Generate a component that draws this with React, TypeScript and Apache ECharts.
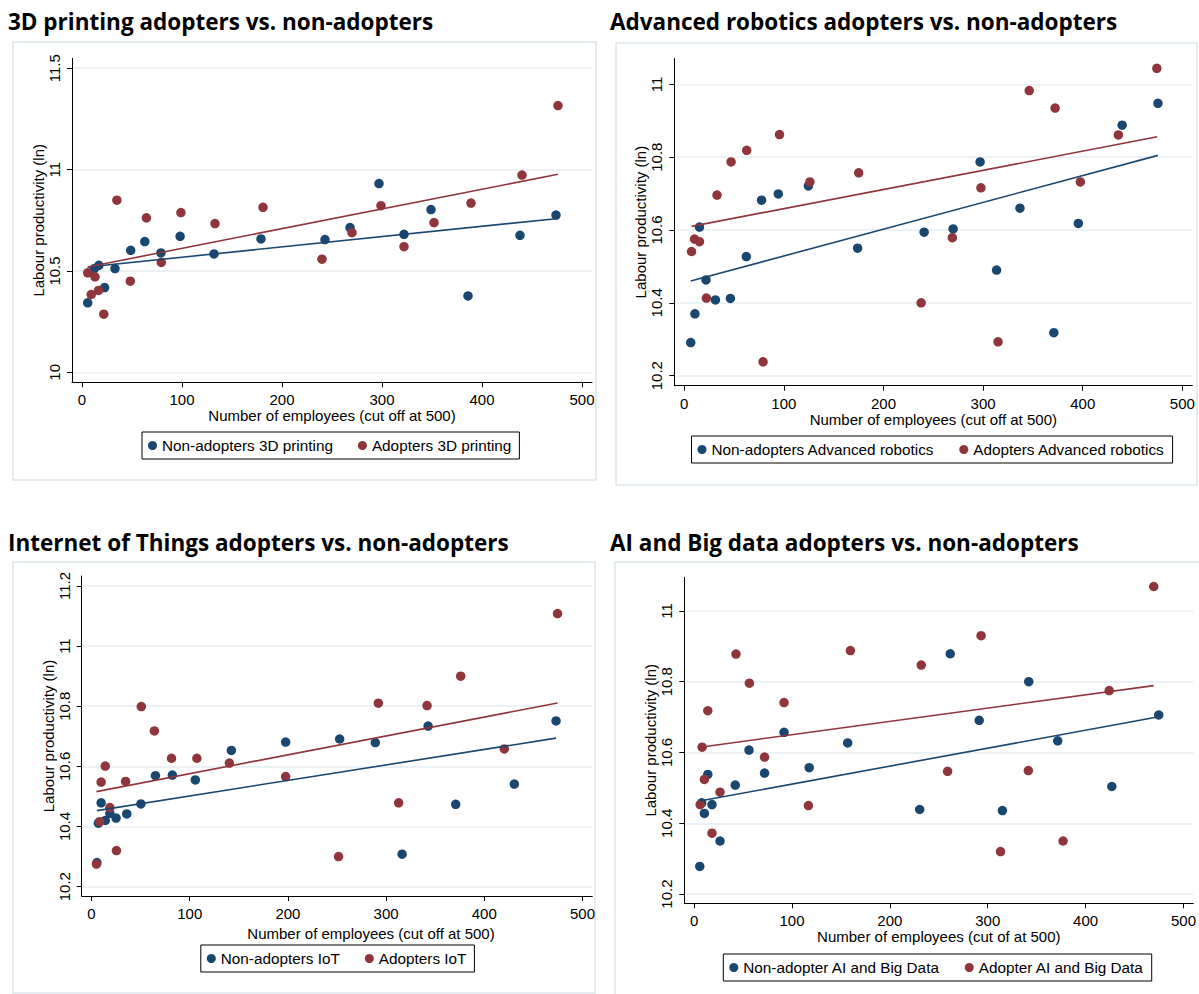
import React, { useEffect, useRef } from 'react';
import * as echarts from 'echarts';

// ---------- DATA ----------
const xTicks = [0, 100, 200, 300, 400, 500];
const yTicks3D = [10, 10.5, 11, 11.5];
const yTicksRob = [10.2, 10.4, 10.6, 10.8, 11];
const yTicksIoT = [10.2, 10.4, 10.6, 10.8, 11, 11.2];
const yTicksAI = [10.2, 10.4, 10.6, 10.8, 11];

// 3D printing
const nonAdopt3DX = [5.7, 12.3, 16.9, 22.6, 33, 48.7, 62.8, 78.9, 98.1, 132, 179, 243, 268, 297, 322, 349, 386, 438, 474];
const nonAdopt3DY = [10.343, 10.512, 10.528, 10.418, 10.512, 10.602, 10.645, 10.589, 10.671, 10.584, 10.658, 10.655, 10.714, 10.931, 10.681, 10.803, 10.377, 10.676, 10.776];
const adopt3DX = [5.7, 9.2, 13, 16.5, 21.8, 34.9, 48.3, 64.4, 79.3, 98.9, 133, 181, 240, 270, 299, 322, 352, 389, 440, 476];
const adopt3DY = [10.491, 10.384, 10.471, 10.404, 10.287, 10.849, 10.45, 10.762, 10.542, 10.788, 10.734, 10.814, 10.558, 10.689, 10.822, 10.62, 10.739, 10.835, 10.973, 11.316];
const fitNon3D = [[5.7, 10.52], [474, 10.758]];
const fitAdopt3D = [[5.7, 10.52], [476, 10.977]];

// Advanced robotics
const nonAdoptRobX = [6.5, 10.7, 15.3, 21.8, 31.3, 46.3, 62.3, 77.6, 94.4, 124.6, 174, 240.8, 269.9, 297, 313.5, 337, 371, 395.6, 439.6, 475.5];
const nonAdoptRobY = [10.291, 10.37, 10.608, 10.463, 10.408, 10.412, 10.527, 10.682, 10.699, 10.721, 10.55, 10.594, 10.603, 10.787, 10.49, 10.66, 10.318, 10.618, 10.888, 10.948];
const adoptRobX = [7.3, 10.3, 15.3, 22.2, 32.9, 47, 62.7, 79.1, 95.6, 126.1, 175.1, 237.8, 269.1, 297.8, 315, 346.3, 372.3, 397.6, 435.8, 474.4];
const adoptRobY = [10.541, 10.575, 10.568, 10.413, 10.696, 10.787, 10.819, 10.238, 10.862, 10.732, 10.757, 10.4, 10.579, 10.716, 10.293, 10.983, 10.935, 10.732, 10.861, 11.044];
const fitNonRob = [[6.5, 10.46], [475.5, 10.805]];
const fitAdoptRob = [[7.3, 10.61], [474.8, 10.856]];

// Internet of Things
const nonAdoptIoTX = [5.5, 7, 9.8, 14, 18.7, 25, 35.9, 50.3, 65.1, 82.3, 105.7, 142.4, 197.7, 252.7, 289, 316.3, 342.8, 370.9, 430.6, 473.1];
const nonAdoptIoTY = [10.28, 10.411, 10.479, 10.42, 10.444, 10.428, 10.442, 10.475, 10.569, 10.571, 10.555, 10.653, 10.681, 10.691, 10.679, 10.308, 10.734, 10.474, 10.541, 10.751];
const adoptIoTX = [5, 8.2, 9.8, 14, 18.7, 25.4, 34.7, 50.7, 64, 81.5, 107.3, 140.4, 197.7, 251.6, 292.1, 312.8, 341.7, 376, 420.4, 474.6];
const adoptIoTY = [10.275, 10.416, 10.548, 10.601, 10.463, 10.32, 10.55, 10.799, 10.718, 10.627, 10.627, 10.611, 10.566, 10.3, 10.81, 10.479, 10.802, 10.9, 10.658, 11.108];
const fitNonIoT = [[5.5, 10.453], [473.1, 10.694]];
const fitAdoptIoT = [[5, 10.516], [474.6, 10.811]];

// AI and Big data
const nonAdoptAIX = [5.8, 7.8, 10.5, 14, 18.3, 26.5, 42.1, 56.1, 72, 91.9, 117.6, 156.9, 230.5, 261.7, 291.3, 315, 341.9, 371.5, 426.8, 474.7];
const nonAdoptAIY = [10.278, 10.458, 10.428, 10.538, 10.453, 10.35, 10.508, 10.607, 10.542, 10.657, 10.557, 10.627, 10.439, 10.879, 10.691, 10.436, 10.8, 10.633, 10.504, 10.706];
const adoptAIX = [6.2, 8.2, 10.5, 14, 18.3, 26.5, 42.8, 56.5, 72, 91.9, 116.8, 159.7, 232.1, 259, 293.2, 313.1, 341.5, 377, 424.1, 469.6];
const adoptAIY = [10.453, 10.615, 10.524, 10.718, 10.372, 10.488, 10.878, 10.796, 10.587, 10.741, 10.45, 10.888, 10.847, 10.547, 10.93, 10.32, 10.549, 10.35, 10.775, 11.069];
const fitNonAI = [[5.8, 10.463], [474.7, 10.701]];
const fitAdoptAI = [[6.2, 10.615], [469.6, 10.789]];

// ---------- STYLE / LAYOUT ----------
const NAVY = '#1a476f';
const MAROON = '#90353b';
const FAINT = '#e4ecf0';
const AXIS_FONT = '"Liberation Sans", Arial, sans-serif';
const TITLE_FONT = '"Open Sans", Lato, sans-serif';

const zip = (xs: number[], ys: number[]) => xs.map((x, i) => [x, ys[i]]);

const panels = [
  {
    title: '3D printing adopters vs. non-adopters', tx: 8, ty: 10,
    frame: [13, 42, 583, 438],
    grid: { left: 72, top: 58.3, width: 520, height: 324 },
    yMin: 9.951, yMax: 11.549, yTicks: yTicks3D,
    xName: 'Number of employees (cut off at 500)', xNamePad: 0, xNameGap: 26,
    legendLeft: 142, legendTop: 432,
    names: ['Non-adopters 3D printing', 'Adopters 3D printing'],
    non: zip(nonAdopt3DX, nonAdopt3DY), adopt: zip(adopt3DX, adopt3DY),
    fitNon: fitNon3D, fitAdopt: fitAdopt3D,
  },
  {
    title: 'Advanced robotics adopters vs. non-adopters', tx: 610, ty: 10,
    frame: [616, 43, 581, 442],
    grid: { left: 674.3, top: 58.5, width: 518, height: 327.2 },
    yMin: 10.1725, yMax: 11.071, yTicks: yTicksRob,
    xName: 'Number of employees (cut off at 500)', xNamePad: 0, xNameGap: 26,
    legendLeft: 691.5, legendTop: 436,
    names: ['Non-adopters Advanced robotics', 'Adopters Advanced robotics'],
    non: zip(nonAdoptRobX, nonAdoptRobY), adopt: zip(adoptRobX, adoptRobY),
    fitNon: fitNonRob, fitAdopt: fitAdoptRob,
  },
  {
    title: 'Internet of Things adopters vs. non-adopters', tx: 8, ty: 531,
    frame: [13, 562, 582, 431],
    grid: { left: 81.7, top: 576, width: 510.6, height: 320 },
    yMin: 10.169, yMax: 11.233, yTicks: yTicksIoT,
    xName: 'Number of employees (cut off at 500)', xNamePad: 68, xNameGap: 30,
    legendLeft: 200.8, legendTop: 945,
    names: ['Non-adopters IoT', 'Adopters IoT'],
    non: zip(nonAdoptIoTX, nonAdoptIoTY), adopt: zip(adoptIoTX, adoptIoTY),
    fitNon: fitNonIoT, fitAdopt: fitAdoptIoT,
  },
  {
    title: 'AI and Big data adopters vs. non-adopters', tx: 610, ty: 531,
    frame: [615, 562, 590, 440],
    grid: { left: 684.3, top: 577.3, width: 510.7, height: 326 },
    yMin: 10.174, yMax: 11.095, yTicks: yTicksAI,
    xName: 'Number of employees (cut of at 500)', xNamePad: 0, xNameGap: 26,
    legendLeft: 723.3, legendTop: 954,
    names: ['Non-adopter AI and Big Data', 'Adopter AI and Big Data'],
    non: zip(nonAdoptAIX, nonAdoptAIY), adopt: zip(adoptAIX, adoptAIY),
    fitNon: fitNonAI, fitAdopt: fitAdoptAI,
  },
];

function buildOption() {
  const axisText = { fontFamily: AXIS_FONT, fontSize: 15, color: '#000' };
  return {
    animation: false,
    backgroundColor: '#ffffff',
    title: panels.map((p) => ({
      text: p.title, left: p.tx, top: p.ty, padding: 0,
      textStyle: { fontFamily: TITLE_FONT, fontWeight: 'bold', fontSize: 22.5, color: '#000' },
    })),
    graphic: panels.map((p) => ({
      type: 'rect', silent: true, z: -10,
      shape: { x: p.frame[0], y: p.frame[1], width: p.frame[2], height: p.frame[3] },
      style: { fill: 'none', stroke: FAINT, lineWidth: 2 },
    })),
    grid: panels.map((p) => ({ ...p.grid, containLabel: false })),
    xAxis: panels.map((p, i) => ({
      type: 'value', gridIndex: i, min: -10, max: 510,
      name: p.xName, nameLocation: 'middle', nameGap: p.xNameGap,
      nameTextStyle: { ...axisText, padding: [0, 0, 0, p.xNamePad] },
      axisLine: { show: true, onZero: false, lineStyle: { color: '#000', width: 1 } },
      axisTick: { show: true, length: 5, customValues: xTicks, lineStyle: { color: '#000' } },
      axisLabel: { ...axisText, margin: 10, customValues: xTicks },
      splitLine: { show: false },
    })),
    yAxis: panels.map((p, i) => ({
      type: 'value', gridIndex: i, min: p.yMin, max: p.yMax,
      name: 'Labour productivity (ln)', nameLocation: 'middle', nameGap: 25, nameRotate: 90,
      nameTextStyle: { ...axisText },
      axisLine: { show: true, onZero: false, lineStyle: { color: '#000', width: 1 } },
      axisTick: { show: true, length: 5, customValues: p.yTicks, lineStyle: { color: '#000' } },
      axisLabel: { ...axisText, margin: 10, rotate: 90, customValues: p.yTicks },
      splitLine: { show: true, lineStyle: { color: FAINT, width: 1.5 } },
    })),
    legend: panels.map((p) => ({
      left: p.legendLeft, top: p.legendTop,
      data: p.names, icon: 'circle', itemWidth: 9, itemHeight: 9, itemGap: 25,
      borderColor: '#000', borderWidth: 1, padding: [6, 8, 6, 6],
      textStyle: { fontFamily: AXIS_FONT, fontSize: 15.3, color: '#000' },
      selectedMode: false,
    })),
    series: panels.flatMap((p, i) => [
      {
        type: 'scatter', name: p.names[0], xAxisIndex: i, yAxisIndex: i,
        data: p.non, symbolSize: 9.5, itemStyle: { color: NAVY, opacity: 1 }, z: 2,
      },
      {
        type: 'scatter', name: p.names[1], xAxisIndex: i, yAxisIndex: i,
        data: p.adopt, symbolSize: 9.5, itemStyle: { color: MAROON, opacity: 1 }, z: 3,
      },
      {
        type: 'line', name: p.names[0] + ' fit', xAxisIndex: i, yAxisIndex: i,
        data: p.fitNon, showSymbol: false, symbol: 'none',
        lineStyle: { color: NAVY, width: 1.6 }, itemStyle: { color: NAVY }, z: 4,
      },
      {
        type: 'line', name: p.names[1] + ' fit', xAxisIndex: i, yAxisIndex: i,
        data: p.fitAdopt, showSymbol: false, symbol: 'none',
        lineStyle: { color: MAROON, width: 1.6 }, itemStyle: { color: MAROON }, z: 5,
      },
    ]),
  };
}

export default function App() {
  const ref = useRef<HTMLDivElement>(null);
  useEffect(() => {
    if (!ref.current) return;
    const chart = echarts.init(ref.current, null, { renderer: 'svg' });
    chart.setOption(buildOption() as any);
    return () => chart.dispose();
  }, []);
  return (
    <div
      ref={ref}
      style={{ position: 'absolute', left: 0, top: 0, width: 1199, height: 994, background: '#fff' }}
    />
  );
}
